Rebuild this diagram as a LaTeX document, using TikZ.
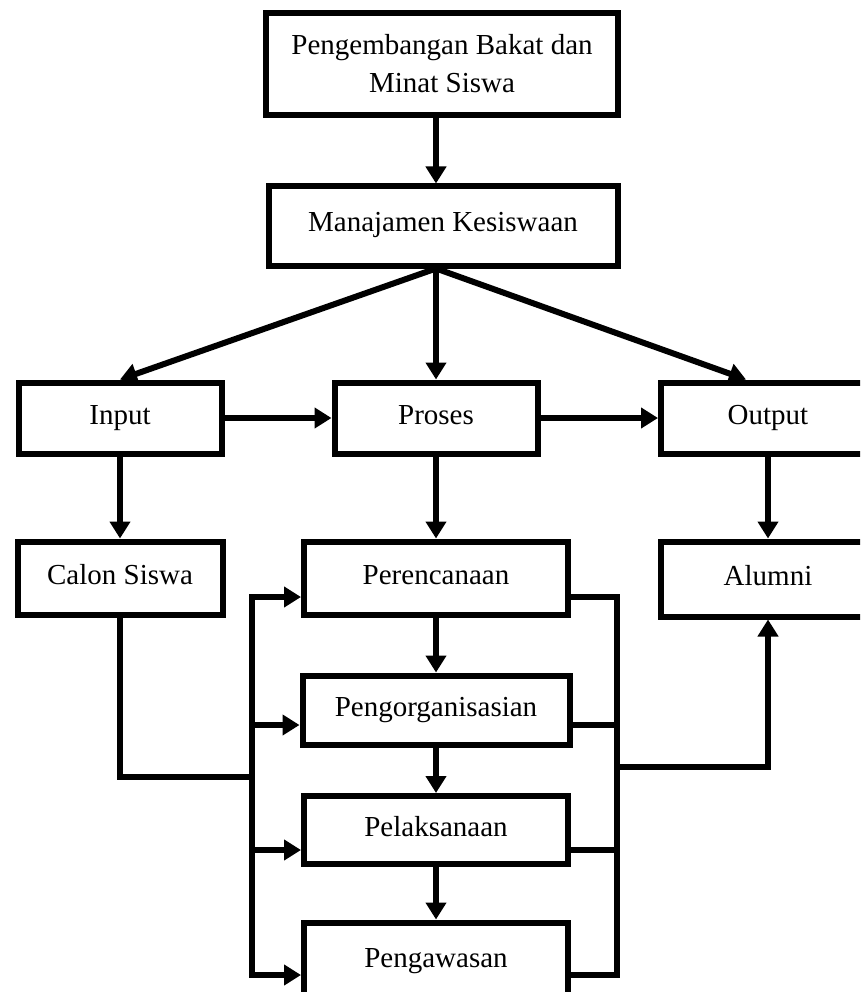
\documentclass[tikz,border=0pt]{standalone}
\usepackage{fontspec}
\setmainfont{Liberation Serif}
\usetikzlibrary{arrows.meta}

\begin{document}
\begin{tikzpicture}[x=1pt, y=-1pt,
		box/.style={draw, line width=6pt, rectangle, align=center, inner sep=0pt, font=\fontsize{29}{38}\selectfont},
		onebox/.style={box, text height=20pt, text depth=8pt},
		conn/.style={line width=6pt},
		arr/.style={line width=6pt, -{Triangle[length=17pt,width=20pt]}}]
			\useasboundingbox (0,0) rectangle (860,992);
			\clip (0,0) rectangle (860,992);

			% Nodes for the top
			\node[box, minimum width=352pt, minimum height=102pt] (bakat) at (442, 64) {Pengembangan Bakat dan\\Minat Siswa};
			\node[onebox, minimum width=349pt, minimum height=79pt] (manajemen) at (443, 226) {Manajamen Kesiswaan};

			% Nodes for input, proses and output
			\node[onebox, minimum width=203pt, minimum height=71pt] (input) at (120, 418) {Input};
			\node[onebox, minimum width=203pt, minimum height=71pt] (proses) at (436, 418) {Proses};
			\node[onebox, minimum width=214pt, minimum height=71pt] (output) at (768, 418) {Output};

			% Nodes for the second row
			\node[onebox, minimum width=205pt, minimum height=73pt] (calon) at (120, 578) {Calon Siswa};
			\node[onebox, minimum width=264pt, minimum height=73pt] (perencanaan) at (436, 578) {Perencanaan};
			\node[onebox, minimum width=214pt, minimum height=75pt] (alumni) at (768, 579) {Alumni};

			% Nodes for the steps
			\node[onebox, minimum width=267pt, minimum height=69pt] (pengorganisasian) at (436, 710) {Pengorganisasian};
			\node[onebox, minimum width=264pt, minimum height=68pt] (pelaksanaan) at (436, 830) {Pelaksanaan};
			\node[onebox, minimum width=264pt, minimum height=77pt] (pengawasan) at (436, 961) {Pengawasan};

			% Edges for the top
			\coordinate (fan) at (manajemen.south -| proses);
			\draw[arr] (bakat.south -| proses) -- (manajemen.north -| proses);
			\draw[arr] (fan) -- (input.north);
			\draw[arr] (fan) -- (proses.north);
			\draw[arr] (fan) -- ([xshift=-22pt]output.north);
			\draw[arr] (input) -- (proses);
			\draw[arr] (proses) -- (output);
			\draw[arr] (input) -- (calon);
			\draw[arr] (proses) -- (perencanaan);
			\draw[arr] (output) -- (alumni);
			\draw[arr] (perencanaan) -- (pengorganisasian);
			\draw[arr] (pengorganisasian) -- (pelaksanaan);
			\draw[arr] (pelaksanaan) -- (pengawasan);

			% Edges for the two buses
			\foreach \n/\y in {perencanaan/597, pengorganisasian/725, pelaksanaan/850, pengawasan/975}{
				\coordinate (l-\n) at (252, \y);
				\coordinate (r-\n) at (617, \y);
				\draw[arr] (l-\n) -- (l-\n -| \n.west);
				\draw[conn] (r-\n -| \n.east) -- (r-\n);
			}
			\draw[conn, line cap=rect] (l-perencanaan) -- (l-pengawasan);
			\draw[conn, line cap=rect] (r-perencanaan) -- (r-pengawasan);

			\coordinate (lbus) at (252, 777);
			\coordinate (rbus) at (617, 767);
			\draw[conn] (calon.south) |- (lbus);
			\draw[arr] (rbus) -| (alumni.south);
		\end{tikzpicture}
\end{document}
